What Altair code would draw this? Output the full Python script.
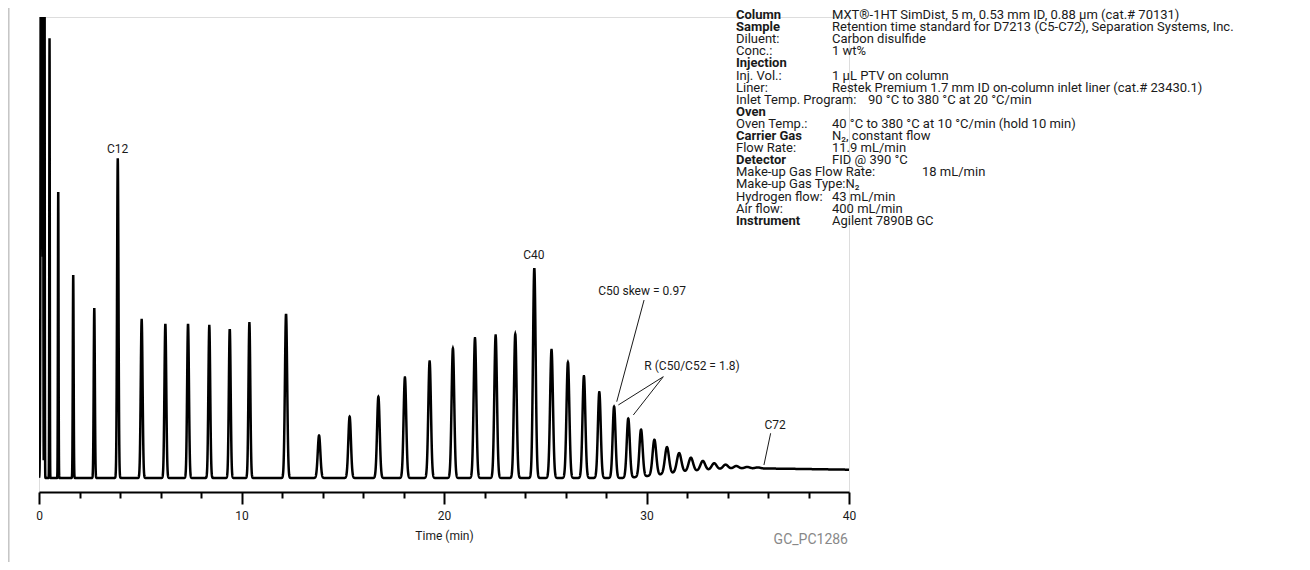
import altair as alt
import numpy as np
import pandas as pd

FONT = "Roboto"
INK = "#1a1a1a"

# ---- peak table (time in min, height in % of full scale, sigma in min)
peak_time = [0.13, 0.21, 0.27, 0.52, 0.95, 1.69, 2.73, 3.89, 5.07, 6.24, 7.36, 8.41, 9.42,
             10.39, 12.20, 13.83, 15.34, 16.76, 18.07, 19.29, 20.44, 21.53, 22.55, 23.52,
             24.46, 25.31, 26.12, 26.91, 27.67, 28.40, 29.10, 29.73, 30.39, 31.01, 31.61,
             32.19, 32.78, 33.34, 33.90, 34.43, 34.97, 35.50]
peak_height = [300.0, 56.6, 130.0, 95.4, 62.3, 44.0, 36.7, 69.2, 34.3, 33.4, 33.4, 33.0, 32.3,
               33.6, 35.6, 9.2, 13.3, 17.6, 21.8, 25.3, 28.1, 30.3, 30.9, 31.2,
               45.5, 27.8, 25.1, 22.1, 18.6, 15.5, 12.9, 10.5, 8.3, 6.7, 5.4,
               4.4, 3.7, 3.2, 2.9, 2.6, 2.4, 2.3]
peak_sigma = [0.032, 0.008, 0.012, 0.012, 0.015, 0.020, 0.028, 0.035, 0.045, 0.045, 0.045, 0.045, 0.045,
              0.045, 0.055, 0.065, 0.065, 0.065, 0.065, 0.065, 0.065, 0.065, 0.065, 0.065,
              0.065, 0.070, 0.070, 0.070, 0.070, 0.070, 0.075, 0.080, 0.090, 0.100, 0.110,
              0.110, 0.115, 0.120, 0.120, 0.120, 0.120, 0.120]

# baseline rise (column bleed) read from the valleys of the late part of the trace
drift_time = [0.0, 29.0, 30.0, 31.0, 32.0, 33.0, 34.0, 35.0, 37.0, 40.0]
drift_level = [0.0, 0.0, 0.4, 0.9, 1.4, 1.7, 2.0, 2.1, 2.0, 1.8]

tick_values = list(range(0, 41))

# ---- peak annotations
ann_text = ["C12", "C40", "C50 skew = 0.97", "R (C50/C52 = 1.8)", "C72"]
ann_time = [3.88, 24.44, 29.78, 32.25, 36.35]
ann_level = [71.4, 48.4, 40.6, 24.4, 11.5]

lead_t1 = [29.88, 30.83, 30.83, 36.13]
lead_v1 = [38.6, 21.97, 21.97, 9.70]
lead_t2 = [28.53, 28.61, 29.35, 35.80]
lead_v2 = [16.55, 15.84, 13.67, 2.82]

# ---- method conditions
info_labels = ["Column", "Sample", "Diluent:", "Conc.:", "Injection", "Inj. Vol.:", "Liner:",
               "Inlet Temp. Program:", "Oven", "Oven Temp.:", "Carrier Gas", "Flow Rate:",
               "Detector", "Make-up Gas Flow Rate:", "Make-up Gas Type:N\u2082", "Hydrogen flow:",
               "Air flow:", "Instrument"]
info_values = ["MXT\u00ae-1HT SimDist, 5 m, 0.53 mm ID, 0.88 \u00b5m (cat.# 70131)",
               "Retention time standard for D7213 (C5-C72), Separation Systems, Inc.",
               "Carbon disulfide", "1 wt%", "", "1 \u00b5L PTV on column",
               "Restek Premium 1.7 mm ID on-column inlet liner (cat.# 23430.1)",
               "90 \u00b0C to 380 \u00b0C at 20 \u00b0C/min", "",
               "40 \u00b0C to 380 \u00b0C at 10 \u00b0C/min (hold 10 min)",
               "N\u2082, constant flow", "11.9 mL/min", "FID @ 390 \u00b0C", "18 mL/min", "",
               "43 mL/min", "400 mL/min", "Agilent 7890B GC"]
info_bold = [True, True, False, False, True, False, False, False, True, False, True, False,
             True, False, False, False, False, True]

# ---- build the trace
t = np.arange(0.0, 40.0 + 1e-9, 0.004)
sig = np.interp(t, drift_time, drift_level)
for tr, h, s in zip(peak_time, peak_height, peak_sigma):
    amp = h - np.interp(tr, drift_time, drift_level)
    sig = sig + amp * np.exp(-0.5 * ((t - tr) / s) ** 2)
trace_df = pd.DataFrame({"time": np.round(t, 4), "signal": np.round(sig, 3)})

W, H = 810, 475
x_scale = alt.Scale(domain=[0, 40], nice=False, zero=False)
y_scale = alt.Scale(domain=[-3.04, 100], nice=False, zero=False)

x_axis = alt.Axis(
    values=tick_values,
    labelExpr="datum.value % 10 === 0 ? datum.label : ''",
    tickSize={"condition": {"test": "datum.value % 10 === 0", "value": 12}, "value": 6},
    tickWidth=2, tickColor="black", domainColor="black", domainWidth=2,
    labelFont=FONT, labelFontSize=12, labelColor=INK, labelPadding=6,
    labelOverlap=False, labelFlush=False, grid=False,
    title="Time (min)", titleFont=FONT, titleFontSize=12, titleFontWeight="normal",
    titleColor=INK, titlePadding=9,
)

trace = alt.Chart(trace_df).mark_line(color="black", strokeWidth=2.5, clip=True).encode(
    x=alt.X("time:Q", scale=x_scale, axis=x_axis),
    y=alt.Y("signal:Q", scale=y_scale, axis=None),
)

ann_df = pd.DataFrame({"text": ann_text, "time": ann_time, "level": ann_level})
ann = alt.Chart(ann_df).mark_text(font=FONT, fontSize=12, color=INK).encode(
    x=alt.X("time:Q", scale=x_scale), y=alt.Y("level:Q", scale=y_scale), text="text:N")

lead_df = pd.DataFrame({"t1": lead_t1, "v1": lead_v1, "t2": lead_t2, "v2": lead_v2})
leads = alt.Chart(lead_df).mark_rule(color=INK, strokeWidth=1).encode(
    x=alt.X("t1:Q", scale=x_scale), y=alt.Y("v1:Q", scale=y_scale), x2="t2:Q", y2="v2:Q")

info_df = pd.DataFrame({"label": info_labels, "value": info_values, "bold": info_bold})
info_df["row"] = np.arange(len(info_df))
info_df["py"] = -2 + 12.1 * info_df["row"]

LABEL_X = 697
VALUE_X = 793
info_base = alt.Chart(info_df)
txt = dict(font=FONT, fontSize=13, color=INK, align="left", baseline="middle")
lab_bold = info_base.transform_filter("datum.bold").mark_text(fontWeight="bold", **txt).encode(
    x=alt.value(LABEL_X), y=alt.Y("py:Q", scale=None), text="label:N")
lab_norm = info_base.transform_filter("!datum.bold").mark_text(**txt).encode(
    x=alt.value(LABEL_X), y=alt.Y("py:Q", scale=None), text="label:N")
val_std = info_base.transform_filter("datum.row != 7 && datum.row != 13").mark_text(**txt).encode(
    x=alt.value(VALUE_X), y=alt.Y("py:Q", scale=None), text="value:N")
val_inlet = info_base.transform_filter("datum.row == 7").mark_text(**txt).encode(
    x=alt.value(829), y=alt.Y("py:Q", scale=None), text="value:N")
val_makeup = info_base.transform_filter("datum.row == 13").mark_text(**txt).encode(
    x=alt.value(883), y=alt.Y("py:Q", scale=None), text="value:N")

one = pd.DataFrame({"k": [0]})
code = alt.Chart(one).mark_text(font=FONT, fontSize=14, color="#888888", align="right",
                                baseline="middle").encode(
    x=alt.value(W - 1), y=alt.value(H + 48), text=alt.value("GC_PC1286"))
frame = alt.Chart(one).mark_rule(color="#c4c4c4", strokeWidth=1.5).encode(
    x=alt.value(-30.2), y=alt.value(-9), y2=alt.value(H + 75))

chart = alt.layer(trace, leads, ann, lab_bold, lab_norm, val_std, val_inlet, val_makeup, code, frame).properties(
    width=W, height=H,
    autosize=alt.AutoSizeParams(type="none"),
    padding={"left": 31, "top": 9, "right": 453, "bottom": 70},
).configure_view(stroke=None).configure(background="white")

chart.save("out.html", embed_options={"renderer": "svg", "actions": False})
